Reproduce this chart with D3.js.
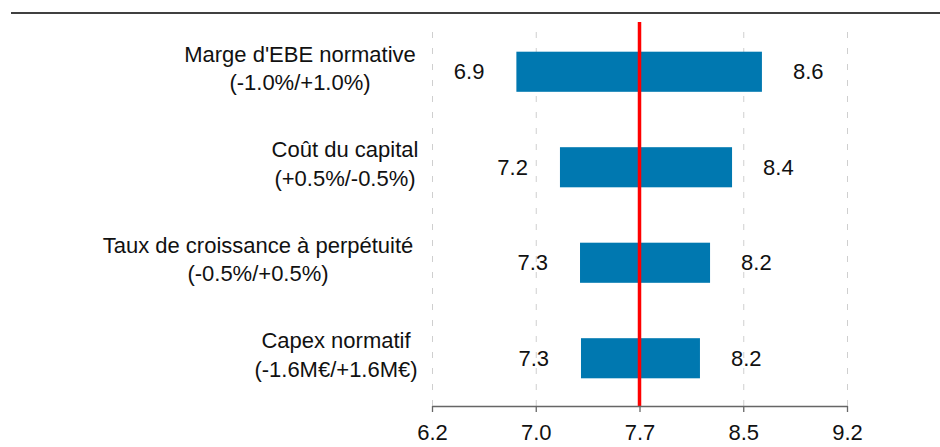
<!DOCTYPE html>
<html>
<head>
<meta charset="utf-8">
<script src="https://cdn.jsdelivr.net/npm/d3@7"></script>
<style>
	body { margin: 0; background: #fff; }
	svg { display: block; font-family: 'Liberation Sans', Arial, sans-serif; }
	.grid line { stroke: #cfcfcf; stroke-width: 1; stroke-dasharray: 6,10; }
	.grid .domain { display: none; }
</style>
</head>
<body>
<div id="chart"></div>
<script>
let width = 940
let height = 447

// data
let categories = ['Marge d\'EBE normative', 'Coût du capital', 'Taux de croissance à perpétuité', 'Capex normatif']
let ranges = ['(-1.0%/+1.0%)', '(+0.5%/-0.5%)', '(-0.5%/+0.5%)', '(-1.6M€/+1.6M€)']
let lowValues = [6.81, 7.125, 7.27, 7.277]
let highValues = [8.585, 8.369, 8.21, 8.137]
let lowLabels = ['6.9', '7.2', '7.3', '7.3']
let highLabels = ['8.6', '8.4', '8.2', '8.2']
let baseValue = 7.7
let tickValues = [6.2, 6.95, 7.7, 8.45, 9.2]
let tickLabels = ['6.2', '7.0', '7.7', '8.5', '9.2']

// layout only
let labelCenters = [300, 345, 258, 336]
let plot = { left: 432, right: 847, top: 24, bottom: 406 }
let fontSize = '22px'

let xScale = d3.scaleLinear()
	.domain([6.2, 9.2])
	.range([plot.left, plot.right])

let yScale = d3.scaleBand()
	.domain(categories)
	.range([plot.top, plot.bottom])
	.paddingInner(0.58)
	.paddingOuter(0.29)

let svg = d3.select('#chart').append('svg')
	.attr('width', width)
	.attr('height', height)

// top rule
svg.append('line')
	.attr('x1', 11).attr('x2', width)
	.attr('y1', 13).attr('y2', 13)
	.attr('stroke', '#000')
	.attr('stroke-width', 1.5)

// dashed gridlines
svg.append('g')
	.attr('class', 'grid')
	.attr('transform', `translate(0,${plot.bottom})`)
	.call(d3.axisBottom(xScale)
		.tickValues(tickValues)
		.tickSize(-(plot.bottom - plot.top))
		.tickFormat(''))

// bars
let rows = categories.map((c, i) => ({
	cat: c, range: ranges[i], lo: lowValues[i], hi: highValues[i],
	loLabel: lowLabels[i], hiLabel: highLabels[i], cx: labelCenters[i]
}))

svg.append('g').selectAll('rect')
	.data(rows)
	.enter()
	.append('rect')
	.attr('x', (d) => xScale(d.lo))
	.attr('y', (d) => yScale(d.cat))
	.attr('width', (d) => xScale(d.hi) - xScale(d.lo))
	.attr('height', yScale.bandwidth())
	.attr('fill', '#0078b0')

// value labels
let values = svg.append('g')
	.style('font-size', fontSize)
	.attr('fill', '#111')

values.selectAll('text.lo')
	.data(rows)
	.enter()
	.append('text')
	.attr('class', 'lo')
	.attr('text-anchor', 'end')
	.attr('x', (d) => xScale(d.lo) - 32)
	.attr('y', (d) => yScale(d.cat) + yScale.bandwidth() / 2)
	.attr('dy', '0.35em')
	.text((d) => d.loLabel)

values.selectAll('text.hi')
	.data(rows)
	.enter()
	.append('text')
	.attr('class', 'hi')
	.attr('text-anchor', 'start')
	.attr('x', (d) => xScale(d.hi) + 31)
	.attr('y', (d) => yScale(d.cat) + yScale.bandwidth() / 2)
	.attr('dy', '0.35em')
	.text((d) => d.hiLabel)

// category labels, two lines each
let catLabels = svg.append('g')
	.style('font-size', fontSize)
	.attr('fill', '#111')
	.attr('text-anchor', 'middle')

let catText = catLabels.selectAll('text')
	.data(rows)
	.enter()
	.append('text')
	.attr('x', (d) => d.cx)
	.attr('y', (d) => yScale(d.cat) + yScale.bandwidth() / 2)

catText.append('tspan')
	.attr('x', (d) => d.cx)
	.attr('dy', '-0.45em')
	.text((d) => d.cat)

catText.append('tspan')
	.attr('x', (d) => d.cx)
	.attr('dy', '1.3em')
	.text((d) => d.range)

// base value line
svg.append('line')
	.attr('x1', xScale(baseValue)).attr('x2', xScale(baseValue))
	.attr('y1', 22).attr('y2', plot.bottom)
	.attr('stroke', '#ff0000')
	.attr('stroke-width', 3.5)

// x axis
let xAxis = svg.append('g')
	.attr('transform', `translate(0,${plot.bottom})`)
	.call(d3.axisBottom(xScale)
		.tickValues(tickValues)
		.tickSize(6)
		.tickSizeOuter(0)
		.tickPadding(12)
		.tickFormat((d, i) => tickLabels[i]))

xAxis.select('.domain').attr('stroke', '#666').attr('stroke-width', 1.3)
xAxis.selectAll('.tick line').attr('stroke', '#666').attr('stroke-width', 1.3)
xAxis.selectAll('.tick text')
	.style('font-size', fontSize)
	.style('font-family', "'Liberation Sans', Arial, sans-serif")
	.attr('fill', '#111')
</script>
</body>
</html>
